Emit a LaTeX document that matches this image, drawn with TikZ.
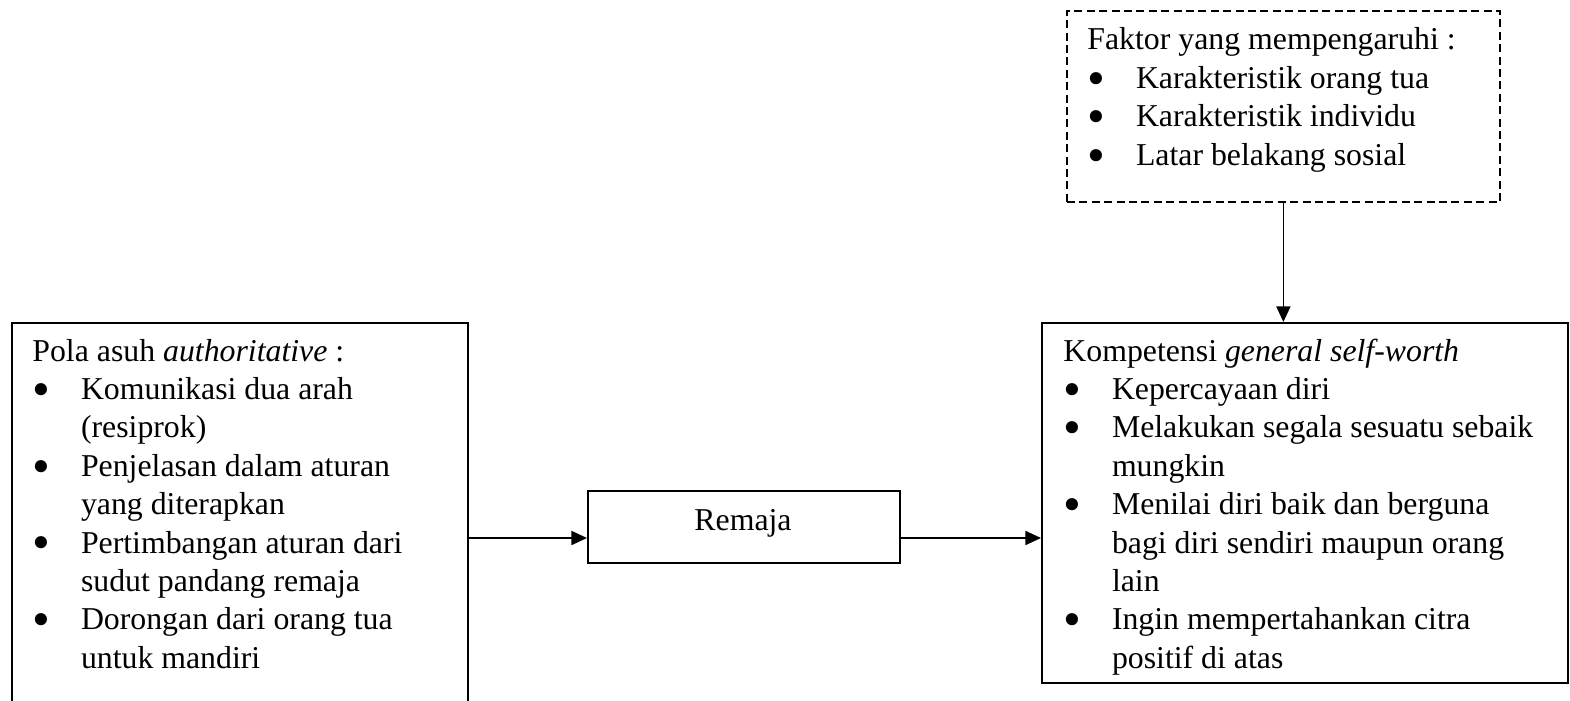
\documentclass[tikz,border=0pt]{standalone}
\usepackage{fontspec}
\setmainfont{Liberation Serif}
\usetikzlibrary{arrows.meta}
\newcommand\bl{\makebox[24.3pt][l]{\smash{\raisebox{-0.22em}{\scalebox{1.6}{\textbullet}}}}}
\newcommand\ind{\hspace*{24.3pt}}
\begin{document}
\begin{tikzpicture}[x=0.5pt,y=-0.5pt,
  box/.style={draw, line width=0.9pt, rectangle, inner sep=0pt, anchor=north west},
  txt/.style={inner sep=0pt, anchor=base west, font=\fontsize{15.9pt}{19.2pt}\selectfont},
  arr/.style={-{Triangle[length=7.8pt,width=7pt]}, line width=0.9pt}]
\useasboundingbox (0,0) rectangle (1570,701);
\clip (0,0) rectangle (1570,701);
% boxes
\node[box, minimum width=228pt, minimum height=200pt] (pola) at (11,322) {};
\node[box, minimum width=156pt, minimum height=36pt] (remaja) at (587,490) {};
\node[box, minimum width=263pt, minimum height=180pt] (komp) at (1041,322) {};
\node[box, dash pattern=on 4pt off 2.2pt, minimum width=216.5pt, minimum height=95.5pt] (faktor) at (1066,10) {};
% texts
\node[txt] (polat) at (32,361) {\parbox[t]{300pt}{\raggedright
Pola asuh \textit{authoritative} :\\
\bl Komunikasi dua arah\\
\ind (resiprok)\\
\bl Penjelasan dalam aturan\\
\ind yang diterapkan\\
\bl Pertimbangan aturan dari\\
\ind sudut pandang remaja\\
\bl Dorongan dari orang tua\\
\ind untuk mandiri}};
\node[txt, anchor=base] (remajat) at (743,530) {Remaja};
\node[txt] (kompt) at (1063,361) {\parbox[t]{300pt}{\raggedright
Kompetensi \textit{general self-worth}\\
\bl Kepercayaan diri\\
\bl Melakukan segala sesuatu sebaik\\
\ind mungkin\\
\bl Menilai diri baik dan berguna\\
\ind bagi diri sendiri maupun orang\\
\ind lain\\
\bl Ingin mempertahankan citra\\
\ind positif di atas}};
\node[txt] (faktort) at (1087,50) {\parbox[t]{300pt}{\raggedright
Faktor yang mempengaruhi :\\
\bl Karakteristik orang tua\\
\bl Karakteristik individu\\
\bl Latar belakang sosial}};
% connectors
\coordinate (ay) at (0,538);
\draw[arr] (pola.east |- ay) -- (remaja.west |- ay);
\draw[arr] (remaja.east |- ay) -- (komp.west |- ay);
\draw[arr] (faktor.south) -- (faktor.south |- komp.north);
\end{tikzpicture}
\end{document}
